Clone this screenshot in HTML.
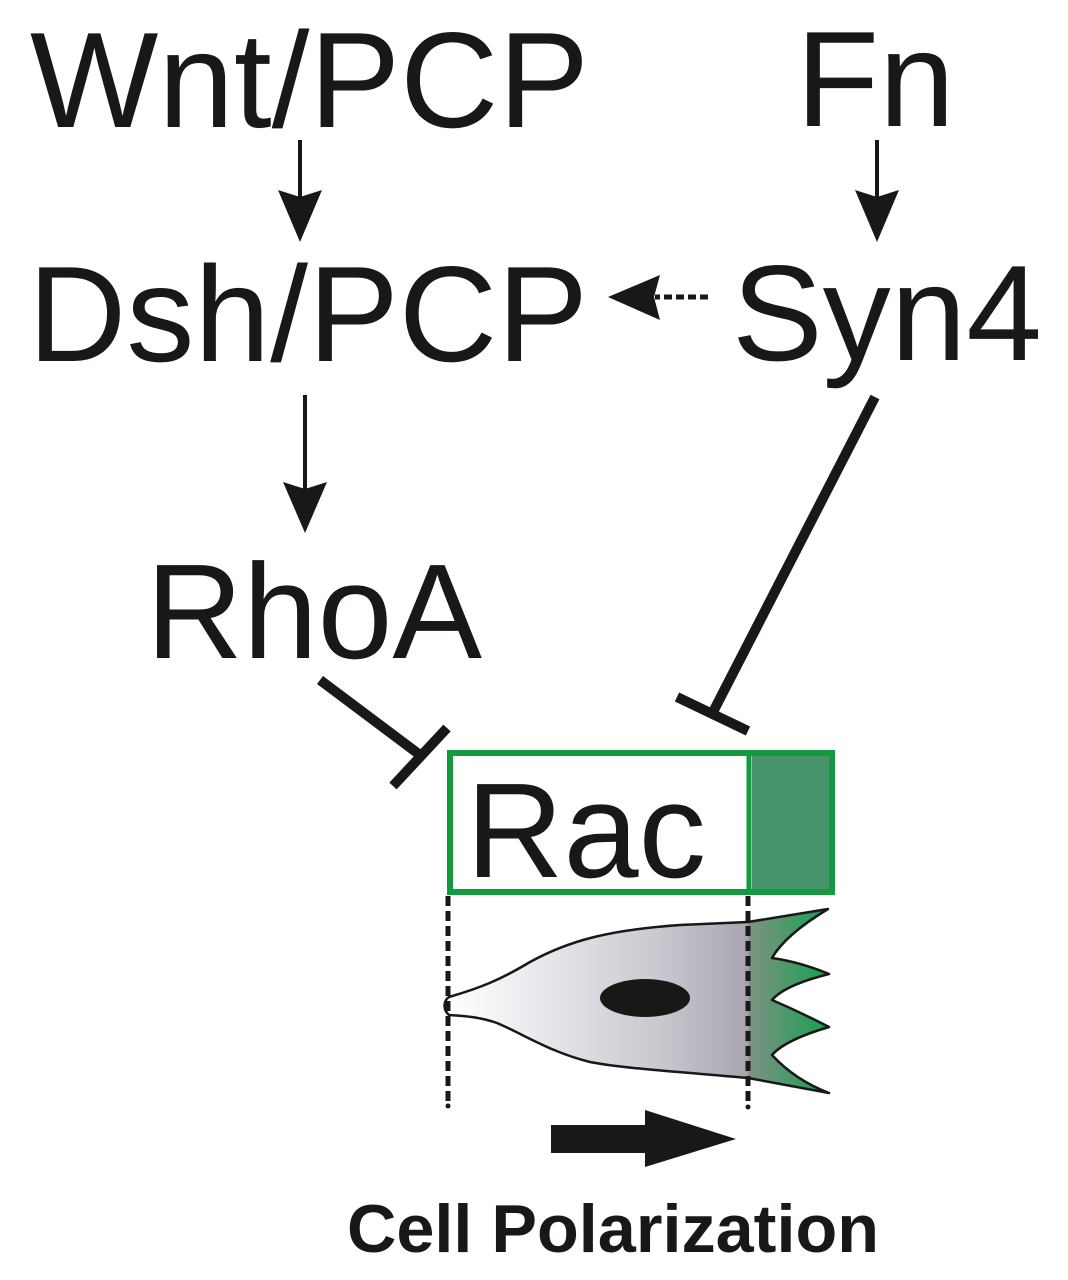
<!DOCTYPE html>
<html>
<head>
<meta charset="utf-8">
<style>
  html, body { margin: 0; padding: 0; background: #ffffff; }
  body { width: 1068px; height: 1280px; overflow: hidden; }
  svg { display: block; }
  text { font-family: "Liberation Sans", Arial, sans-serif; fill: #1a1717; }
</style>
</head>
<body>
<svg width="1068" height="1280" viewBox="0 0 1068 1280" xmlns="http://www.w3.org/2000/svg">
  <defs>
    <linearGradient id="cellg" gradientUnits="userSpaceOnUse" x1="447" y1="0" x2="830" y2="0">
      <stop offset="0" stop-color="#ffffff"/>
      <stop offset="0.25" stop-color="#e6e8ec"/>
      <stop offset="0.55" stop-color="#c9c9d0"/>
      <stop offset="0.785" stop-color="#a8a5b2"/>
      <stop offset="0.79" stop-color="#7f9284"/>
      <stop offset="1" stop-color="#12a24e"/>
    </linearGradient>
  </defs>

  <!-- Labels -->
  <text x="30" y="127" font-size="136" textLength="559" lengthAdjust="spacingAndGlyphs">Wnt/PCP</text>
  <text x="796" y="126" font-size="136">Fn</text>
  <text x="28" y="361" font-size="136" textLength="560" lengthAdjust="spacingAndGlyphs">Dsh/PCP</text>
  <text x="732" y="360" font-size="136" textLength="310" lengthAdjust="spacingAndGlyphs">Syn4</text>
  <text x="146" y="658" font-size="135" textLength="336" lengthAdjust="spacingAndGlyphs">RhoA</text>

  <!-- Wnt -> Dsh arrow -->
  <line x1="300" y1="140" x2="300" y2="200" stroke="#1a1717" stroke-width="4"/>
  <polygon points="278,190 300,197 322,190 300,242" fill="#1a1717"/>

  <!-- Fn -> Syn4 arrow -->
  <line x1="877" y1="140" x2="877" y2="200" stroke="#1a1717" stroke-width="4"/>
  <polygon points="855,190 877,197 899,190 877,242" fill="#1a1717"/>

  <!-- Dsh -> RhoA arrow -->
  <line x1="305" y1="395" x2="305" y2="490" stroke="#1a1717" stroke-width="4"/>
  <polygon points="283,482 305,489 327,482 305,533" fill="#1a1717"/>

  <!-- Syn4 -> Dsh dashed arrow -->
  <line x1="708" y1="297" x2="655" y2="297" stroke="#1a1717" stroke-width="5" stroke-dasharray="8 4"/>
  <polygon points="608,297 660,275 654,297 660,320" fill="#1a1717"/>

  <!-- RhoA inhibition -->
  <line x1="320" y1="680" x2="420" y2="755" stroke="#1a1717" stroke-width="10"/>
  <line x1="393" y1="786" x2="447" y2="728" stroke="#1a1717" stroke-width="10"/>

  <!-- Syn4 inhibition -->
  <line x1="875" y1="397" x2="713" y2="712" stroke="#1a1717" stroke-width="10"/>
  <line x1="677" y1="697" x2="748" y2="731" stroke="#1a1717" stroke-width="10"/>

  <!-- Rac box -->
  <rect x="752" y="756" width="78" height="134" fill="#47946c"/>
  <rect x="450" y="753" width="382" height="139" fill="none" stroke="#139a3e" stroke-width="6"/>
  <line x1="749" y1="753" x2="749" y2="892" stroke="#139a3e" stroke-width="5"/>
  <text x="466" y="877" font-size="135">Rac</text>

  <!-- Cell -->
  <path d="M 449,997
           C 480,988 500,980 530,962
           C 570,940 610,930 680,925
           L 748,922
           L 828,909
           Q 785,935 772,958
           Q 800,962 829,974
           Q 785,985 772,1000
           Q 800,1012 829,1027
           Q 785,1040 772,1055
           Q 795,1080 829,1093
           L 748,1078
           C 680,1072 620,1068 590,1062
           C 550,1052 525,1035 497,1023
           C 480,1017 465,1016 449,1015
           C 443,1010 443,1001 449,997 Z"
        fill="url(#cellg)" stroke="#1a1717" stroke-width="2.5" stroke-linejoin="round"/>
  <ellipse cx="645" cy="998" rx="45" ry="19" fill="#1a1717"/>

  <!-- Dashed guides -->
  <line x1="448" y1="896" x2="448" y2="1104" stroke="#1a1717" stroke-width="5" stroke-dasharray="10 5"/>
  <circle cx="448" cy="1106" r="2.5" fill="#1a1717"/>
  <line x1="748" y1="896" x2="748" y2="1104" stroke="#1a1717" stroke-width="5" stroke-dasharray="10 5"/>
  <circle cx="748" cy="1107" r="2.5" fill="#1a1717"/>

  <!-- Polarization arrow -->
  <polygon points="551,1125 645,1125 645,1110 736,1139 645,1167 645,1153 551,1153" fill="#1a1717"/>

  <text x="347" y="1252" font-size="68" font-weight="bold" textLength="532" lengthAdjust="spacingAndGlyphs">Cell Polarization</text>
</svg>
</body>
</html>
